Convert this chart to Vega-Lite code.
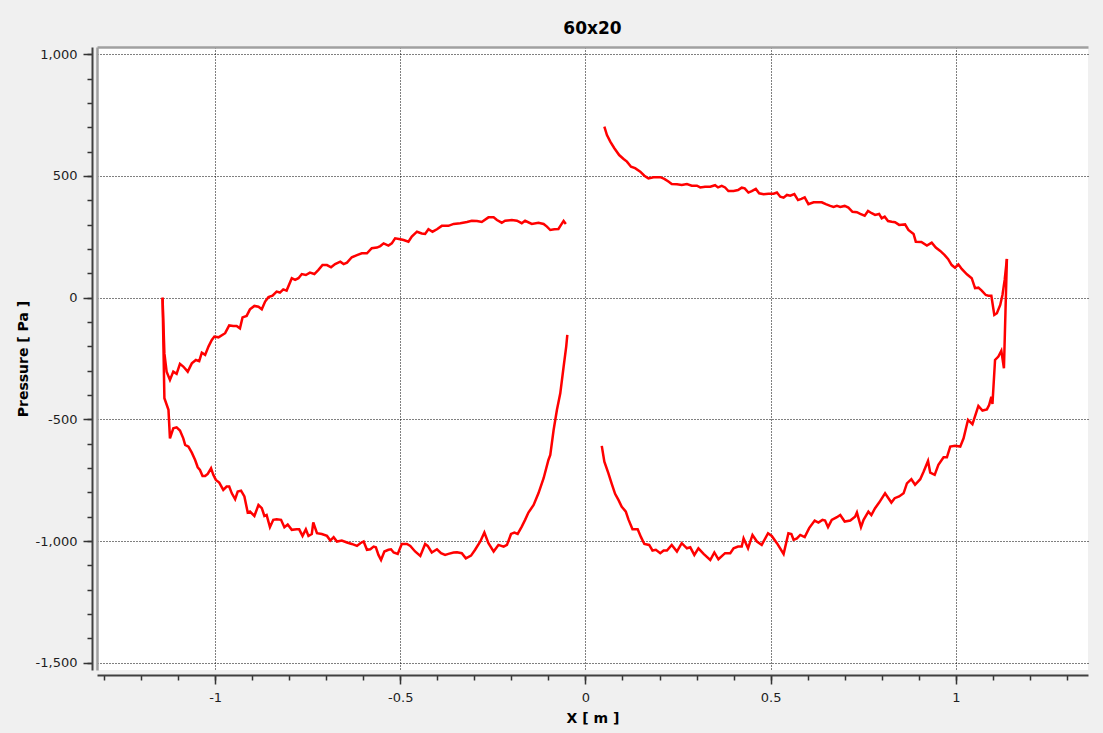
{
"$schema": "https://vega.github.io/schema/vega-lite/v6.json",
"width": 991,
"height": 623,
"autosize": {"type": "none"},
"padding": {"left": 97, "top": 47, "right": 15, "bottom": 63},
"background": "#f0f0f0",
"title": {"text": "60x20", "fontSize": 17, "fontWeight": "bold", "font": "DejaVu Sans", "color": "#000000", "anchor": "middle", "offset": 9},
"data": {"values": [
{"s":"LU","x":-1.142,"p":0},{"s":"LU","x":-1.137,"p":-229},{"s":"LU","x":-1.131,"p":-304},{"s":"LU","x":-1.122,"p":-338},{"s":"LU","x":-1.113,"p":-304},{"s":"LU","x":-1.104,"p":-313},{"s":"LU","x":-1.095,"p":-272},{"s":"LU","x":-1.086,"p":-283},{"s":"LU","x":-1.074,"p":-304},{"s":"LU","x":-1.063,"p":-270},{"s":"LU","x":-1.052,"p":-256},{"s":"LU","x":-1.043,"p":-261},{"s":"LU","x":-1.036,"p":-226},{"s":"LU","x":-1.027,"p":-235},{"s":"LU","x":-1.018,"p":-201},{"s":"LU","x":-1.009,"p":-174},{"s":"LU","x":-1.002,"p":-160},{"s":"LU","x":-0.991,"p":-163},{"s":"LU","x":-0.973,"p":-146},{"s":"LU","x":-0.962,"p":-114},{"s":"LU","x":-0.951,"p":-116},{"s":"LU","x":-0.942,"p":-116},{"s":"LU","x":-0.933,"p":-126},{"s":"LU","x":-0.926,"p":-81},{"s":"LU","x":-0.915,"p":-75},{"s":"LU","x":-0.906,"p":-48},{"s":"LU","x":-0.894,"p":-34},{"s":"LU","x":-0.883,"p":-37},{"s":"LU","x":-0.874,"p":-48},{"s":"LU","x":-0.865,"p":-16},{"s":"LU","x":-0.856,"p":2},{"s":"LU","x":-0.845,"p":8},{"s":"LU","x":-0.834,"p":25},{"s":"LU","x":-0.825,"p":21},{"s":"LU","x":-0.816,"p":34},{"s":"LU","x":-0.807,"p":29},{"s":"LU","x":-0.793,"p":80},{"s":"LU","x":-0.784,"p":73},{"s":"LU","x":-0.775,"p":80},{"s":"LU","x":-0.766,"p":97},{"s":"LU","x":-0.755,"p":93},{"s":"LU","x":-0.744,"p":103},{"s":"LU","x":-0.732,"p":97},{"s":"LU","x":-0.721,"p":114},{"s":"LU","x":-0.710,"p":134},{"s":"LU","x":-0.698,"p":134},{"s":"LU","x":-0.687,"p":125},{"s":"LU","x":-0.676,"p":138},{"s":"LU","x":-0.662,"p":148},{"s":"LU","x":-0.653,"p":138},{"s":"LU","x":-0.644,"p":144},{"s":"LU","x":-0.631,"p":166},{"s":"LU","x":-0.617,"p":175},{"s":"LU","x":-0.604,"p":182},{"s":"LU","x":-0.590,"p":182},{"s":"LU","x":-0.577,"p":203},{"s":"LU","x":-0.563,"p":206},{"s":"LU","x":-0.554,"p":212},{"s":"LU","x":-0.545,"p":223},{"s":"LU","x":-0.532,"p":214},{"s":"LU","x":-0.523,"p":223},{"s":"LU","x":-0.514,"p":244},{"s":"LU","x":-0.500,"p":240},{"s":"LU","x":-0.491,"p":237},{"s":"LU","x":-0.478,"p":230},{"s":"LU","x":-0.469,"p":251},{"s":"LU","x":-0.455,"p":271},{"s":"LU","x":-0.442,"p":264},{"s":"LU","x":-0.433,"p":262},{"s":"LU","x":-0.424,"p":281},{"s":"LU","x":-0.413,"p":271},{"s":"LU","x":-0.401,"p":281},{"s":"LU","x":-0.388,"p":295},{"s":"LU","x":-0.370,"p":295},{"s":"LU","x":-0.356,"p":303},{"s":"LU","x":-0.338,"p":306},{"s":"LU","x":-0.320,"p":311},{"s":"LU","x":-0.307,"p":316},{"s":"LU","x":-0.293,"p":315},{"s":"LU","x":-0.280,"p":311},{"s":"LU","x":-0.262,"p":330},{"s":"LU","x":-0.248,"p":330},{"s":"LU","x":-0.239,"p":319},{"s":"LU","x":-0.226,"p":308},{"s":"LU","x":-0.217,"p":316},{"s":"LU","x":-0.199,"p":319},{"s":"LU","x":-0.185,"p":316},{"s":"LU","x":-0.172,"p":306},{"s":"LU","x":-0.163,"p":316},{"s":"LU","x":-0.145,"p":303},{"s":"LU","x":-0.127,"p":308},{"s":"LU","x":-0.113,"p":303},{"s":"LU","x":-0.104,"p":292},{"s":"LU","x":-0.095,"p":278},{"s":"LU","x":-0.084,"p":281},{"s":"LU","x":-0.073,"p":282},{"s":"LU","x":-0.066,"p":299},{"s":"LU","x":-0.059,"p":315},{"s":"LU","x":-0.053,"p":303},
{"s":"LL","x":-1.142,"p":0},{"s":"LL","x":-1.137,"p":-413},{"s":"LL","x":-1.126,"p":-461},{"s":"LL","x":-1.122,"p":-578},{"s":"LL","x":-1.113,"p":-537},{"s":"LL","x":-1.104,"p":-533},{"s":"LL","x":-1.095,"p":-546},{"s":"LL","x":-1.086,"p":-578},{"s":"LL","x":-1.081,"p":-605},{"s":"LL","x":-1.072,"p":-612},{"s":"LL","x":-1.063,"p":-637},{"s":"LL","x":-1.054,"p":-667},{"s":"LL","x":-1.047,"p":-697},{"s":"LL","x":-1.041,"p":-708},{"s":"LL","x":-1.034,"p":-733},{"s":"LL","x":-1.027,"p":-733},{"s":"LL","x":-1.020,"p":-724},{"s":"LL","x":-1.011,"p":-701},{"s":"LL","x":-1.005,"p":-728},{"s":"LL","x":-0.998,"p":-749},{"s":"LL","x":-0.989,"p":-760},{"s":"LL","x":-0.978,"p":-790},{"s":"LL","x":-0.969,"p":-776},{"s":"LL","x":-0.962,"p":-776},{"s":"LL","x":-0.955,"p":-804},{"s":"LL","x":-0.946,"p":-828},{"s":"LL","x":-0.939,"p":-797},{"s":"LL","x":-0.930,"p":-793},{"s":"LL","x":-0.921,"p":-817},{"s":"LL","x":-0.912,"p":-883},{"s":"LL","x":-0.906,"p":-879},{"s":"LL","x":-0.894,"p":-897},{"s":"LL","x":-0.883,"p":-852},{"s":"LL","x":-0.874,"p":-865},{"s":"LL","x":-0.867,"p":-897},{"s":"LL","x":-0.861,"p":-893},{"s":"LL","x":-0.852,"p":-943},{"s":"LL","x":-0.843,"p":-913},{"s":"LL","x":-0.834,"p":-911},{"s":"LL","x":-0.822,"p":-913},{"s":"LL","x":-0.813,"p":-943},{"s":"LL","x":-0.804,"p":-932},{"s":"LL","x":-0.793,"p":-954},{"s":"LL","x":-0.780,"p":-952},{"s":"LL","x":-0.773,"p":-952},{"s":"LL","x":-0.764,"p":-979},{"s":"LL","x":-0.755,"p":-952},{"s":"LL","x":-0.748,"p":-979},{"s":"LL","x":-0.739,"p":-971},{"s":"LL","x":-0.735,"p":-924},{"s":"LL","x":-0.725,"p":-968},{"s":"LL","x":-0.712,"p":-971},{"s":"LL","x":-0.698,"p":-979},{"s":"LL","x":-0.689,"p":-998},{"s":"LL","x":-0.680,"p":-984},{"s":"LL","x":-0.671,"p":-1002},{"s":"LL","x":-0.658,"p":-998},{"s":"LL","x":-0.644,"p":-1006},{"s":"LL","x":-0.631,"p":-1012},{"s":"LL","x":-0.617,"p":-1020},{"s":"LL","x":-0.608,"p":-1009},{"s":"LL","x":-0.599,"p":-1002},{"s":"LL","x":-0.590,"p":-1036},{"s":"LL","x":-0.581,"p":-1034},{"s":"LL","x":-0.572,"p":-1023},{"s":"LL","x":-0.566,"p":-1026},{"s":"LL","x":-0.559,"p":-1057},{"s":"LL","x":-0.552,"p":-1078},{"s":"LL","x":-0.543,"p":-1043},{"s":"LL","x":-0.532,"p":-1036},{"s":"LL","x":-0.525,"p":-1034},{"s":"LL","x":-0.518,"p":-1047},{"s":"LL","x":-0.507,"p":-1053},{"s":"LL","x":-0.496,"p":-1012},{"s":"LL","x":-0.482,"p":-1012},{"s":"LL","x":-0.473,"p":-1020},{"s":"LL","x":-0.460,"p":-1043},{"s":"LL","x":-0.446,"p":-1061},{"s":"LL","x":-0.433,"p":-1012},{"s":"LL","x":-0.426,"p":-1020},{"s":"LL","x":-0.415,"p":-1047},{"s":"LL","x":-0.401,"p":-1034},{"s":"LL","x":-0.390,"p":-1050},{"s":"LL","x":-0.379,"p":-1057},{"s":"LL","x":-0.370,"p":-1053},{"s":"LL","x":-0.356,"p":-1047},{"s":"LL","x":-0.347,"p":-1046},{"s":"LL","x":-0.334,"p":-1050},{"s":"LL","x":-0.323,"p":-1071},{"s":"LL","x":-0.309,"p":-1060},{"s":"LL","x":-0.298,"p":-1036},{"s":"LL","x":-0.284,"p":-1002},{"s":"LL","x":-0.273,"p":-965},{"s":"LL","x":-0.262,"p":-1009},{"s":"LL","x":-0.248,"p":-1043},{"s":"LL","x":-0.235,"p":-1016},{"s":"LL","x":-0.221,"p":-1023},{"s":"LL","x":-0.212,"p":-1016},{"s":"LL","x":-0.201,"p":-971},{"s":"LL","x":-0.192,"p":-965},{"s":"LL","x":-0.183,"p":-971},{"s":"LL","x":-0.172,"p":-941},{"s":"LL","x":-0.163,"p":-913},{"s":"LL","x":-0.154,"p":-883},{"s":"LL","x":-0.140,"p":-852},{"s":"LL","x":-0.127,"p":-804},{"s":"LL","x":-0.113,"p":-742},{"s":"LL","x":-0.100,"p":-667},{"s":"LL","x":-0.095,"p":-646},{"s":"LL","x":-0.086,"p":-544},{"s":"LL","x":-0.077,"p":-461},{"s":"LL","x":-0.068,"p":-393},{"s":"LL","x":-0.059,"p":-284},{"s":"LL","x":-0.052,"p":-201},{"s":"LL","x":-0.049,"p":-153},
{"s":"RU","x":0.051,"p":703},{"s":"RU","x":0.058,"p":668},{"s":"RU","x":0.067,"p":641},{"s":"RU","x":0.078,"p":614},{"s":"RU","x":0.091,"p":586},{"s":"RU","x":0.103,"p":570},{"s":"RU","x":0.112,"p":559},{"s":"RU","x":0.123,"p":538},{"s":"RU","x":0.134,"p":532},{"s":"RU","x":0.148,"p":518},{"s":"RU","x":0.159,"p":501},{"s":"RU","x":0.170,"p":490},{"s":"RU","x":0.184,"p":495},{"s":"RU","x":0.202,"p":495},{"s":"RU","x":0.213,"p":488},{"s":"RU","x":0.224,"p":477},{"s":"RU","x":0.233,"p":467},{"s":"RU","x":0.247,"p":466},{"s":"RU","x":0.260,"p":463},{"s":"RU","x":0.274,"p":467},{"s":"RU","x":0.287,"p":460},{"s":"RU","x":0.301,"p":460},{"s":"RU","x":0.310,"p":453},{"s":"RU","x":0.323,"p":456},{"s":"RU","x":0.337,"p":456},{"s":"RU","x":0.350,"p":462},{"s":"RU","x":0.358,"p":453},{"s":"RU","x":0.368,"p":459},{"s":"RU","x":0.377,"p":453},{"s":"RU","x":0.386,"p":438},{"s":"RU","x":0.400,"p":438},{"s":"RU","x":0.412,"p":442},{"s":"RU","x":0.422,"p":452},{"s":"RU","x":0.430,"p":449},{"s":"RU","x":0.440,"p":432},{"s":"RU","x":0.449,"p":438},{"s":"RU","x":0.460,"p":447},{"s":"RU","x":0.469,"p":429},{"s":"RU","x":0.481,"p":425},{"s":"RU","x":0.494,"p":427},{"s":"RU","x":0.508,"p":427},{"s":"RU","x":0.517,"p":432},{"s":"RU","x":0.526,"p":415},{"s":"RU","x":0.535,"p":411},{"s":"RU","x":0.544,"p":422},{"s":"RU","x":0.553,"p":419},{"s":"RU","x":0.564,"p":426},{"s":"RU","x":0.574,"p":401},{"s":"RU","x":0.583,"p":406},{"s":"RU","x":0.592,"p":412},{"s":"RU","x":0.602,"p":384},{"s":"RU","x":0.616,"p":392},{"s":"RU","x":0.628,"p":392},{"s":"RU","x":0.638,"p":392},{"s":"RU","x":0.649,"p":384},{"s":"RU","x":0.661,"p":377},{"s":"RU","x":0.670,"p":373},{"s":"RU","x":0.679,"p":377},{"s":"RU","x":0.688,"p":373},{"s":"RU","x":0.700,"p":377},{"s":"RU","x":0.710,"p":370},{"s":"RU","x":0.721,"p":353},{"s":"RU","x":0.733,"p":351},{"s":"RU","x":0.742,"p":344},{"s":"RU","x":0.754,"p":337},{"s":"RU","x":0.763,"p":356},{"s":"RU","x":0.773,"p":347},{"s":"RU","x":0.782,"p":340},{"s":"RU","x":0.793,"p":344},{"s":"RU","x":0.800,"p":326},{"s":"RU","x":0.808,"p":333},{"s":"RU","x":0.817,"p":315},{"s":"RU","x":0.827,"p":312},{"s":"RU","x":0.836,"p":310},{"s":"RU","x":0.847,"p":299},{"s":"RU","x":0.863,"p":301},{"s":"RU","x":0.872,"p":278},{"s":"RU","x":0.886,"p":262},{"s":"RU","x":0.892,"p":230},{"s":"RU","x":0.907,"p":229},{"s":"RU","x":0.922,"p":214},{"s":"RU","x":0.935,"p":226},{"s":"RU","x":0.946,"p":206},{"s":"RU","x":0.958,"p":192},{"s":"RU","x":0.970,"p":175},{"s":"RU","x":0.979,"p":159},{"s":"RU","x":0.989,"p":134},{"s":"RU","x":0.998,"p":123},{"s":"RU","x":1.007,"p":137},{"s":"RU","x":1.016,"p":118},{"s":"RU","x":1.030,"p":96},{"s":"RU","x":1.043,"p":80},{"s":"RU","x":1.052,"p":39},{"s":"RU","x":1.061,"p":41},{"s":"RU","x":1.070,"p":29},{"s":"RU","x":1.081,"p":11},{"s":"RU","x":1.088,"p":8},{"s":"RU","x":1.096,"p":8},{"s":"RU","x":1.104,"p":-71},{"s":"RU","x":1.111,"p":-64},{"s":"RU","x":1.120,"p":-30},{"s":"RU","x":1.126,"p":11},{"s":"RU","x":1.132,"p":73},{"s":"RU","x":1.138,"p":159},
{"s":"RL","x":0.044,"p":-609},{"s":"RL","x":0.051,"p":-674},{"s":"RL","x":0.062,"p":-722},{"s":"RL","x":0.071,"p":-765},{"s":"RL","x":0.080,"p":-806},{"s":"RL","x":0.089,"p":-831},{"s":"RL","x":0.098,"p":-859},{"s":"RL","x":0.109,"p":-879},{"s":"RL","x":0.116,"p":-911},{"s":"RL","x":0.127,"p":-952},{"s":"RL","x":0.141,"p":-952},{"s":"RL","x":0.150,"p":-984},{"s":"RL","x":0.159,"p":-1012},{"s":"RL","x":0.172,"p":-1016},{"s":"RL","x":0.181,"p":-1039},{"s":"RL","x":0.190,"p":-1036},{"s":"RL","x":0.202,"p":-1050},{"s":"RL","x":0.211,"p":-1039},{"s":"RL","x":0.220,"p":-1039},{"s":"RL","x":0.233,"p":-1016},{"s":"RL","x":0.247,"p":-1043},{"s":"RL","x":0.260,"p":-1009},{"s":"RL","x":0.274,"p":-1030},{"s":"RL","x":0.283,"p":-1026},{"s":"RL","x":0.294,"p":-1057},{"s":"RL","x":0.305,"p":-1030},{"s":"RL","x":0.319,"p":-1053},{"s":"RL","x":0.337,"p":-1078},{"s":"RL","x":0.348,"p":-1047},{"s":"RL","x":0.359,"p":-1075},{"s":"RL","x":0.377,"p":-1050},{"s":"RL","x":0.391,"p":-1050},{"s":"RL","x":0.400,"p":-1030},{"s":"RL","x":0.412,"p":-1023},{"s":"RL","x":0.422,"p":-1023},{"s":"RL","x":0.427,"p":-989},{"s":"RL","x":0.439,"p":-1030},{"s":"RL","x":0.451,"p":-975},{"s":"RL","x":0.463,"p":-1002},{"s":"RL","x":0.476,"p":-1016},{"s":"RL","x":0.493,"p":-968},{"s":"RL","x":0.503,"p":-979},{"s":"RL","x":0.517,"p":-1009},{"s":"RL","x":0.535,"p":-1053},{"s":"RL","x":0.548,"p":-968},{"s":"RL","x":0.556,"p":-971},{"s":"RL","x":0.562,"p":-995},{"s":"RL","x":0.571,"p":-989},{"s":"RL","x":0.580,"p":-975},{"s":"RL","x":0.592,"p":-984},{"s":"RL","x":0.604,"p":-947},{"s":"RL","x":0.619,"p":-916},{"s":"RL","x":0.629,"p":-924},{"s":"RL","x":0.640,"p":-913},{"s":"RL","x":0.647,"p":-916},{"s":"RL","x":0.655,"p":-943},{"s":"RL","x":0.665,"p":-913},{"s":"RL","x":0.679,"p":-902},{"s":"RL","x":0.688,"p":-893},{"s":"RL","x":0.700,"p":-920},{"s":"RL","x":0.715,"p":-916},{"s":"RL","x":0.728,"p":-900},{"s":"RL","x":0.733,"p":-883},{"s":"RL","x":0.744,"p":-943},{"s":"RL","x":0.751,"p":-913},{"s":"RL","x":0.764,"p":-879},{"s":"RL","x":0.772,"p":-893},{"s":"RL","x":0.782,"p":-865},{"s":"RL","x":0.793,"p":-842},{"s":"RL","x":0.809,"p":-804},{"s":"RL","x":0.826,"p":-842},{"s":"RL","x":0.835,"p":-824},{"s":"RL","x":0.847,"p":-817},{"s":"RL","x":0.859,"p":-804},{"s":"RL","x":0.868,"p":-763},{"s":"RL","x":0.880,"p":-746},{"s":"RL","x":0.890,"p":-769},{"s":"RL","x":0.904,"p":-746},{"s":"RL","x":0.913,"p":-715},{"s":"RL","x":0.925,"p":-671},{"s":"RL","x":0.931,"p":-719},{"s":"RL","x":0.943,"p":-728},{"s":"RL","x":0.953,"p":-687},{"s":"RL","x":0.967,"p":-656},{"s":"RL","x":0.976,"p":-656},{"s":"RL","x":0.985,"p":-612},{"s":"RL","x":0.998,"p":-609},{"s":"RL","x":1.012,"p":-612},{"s":"RL","x":1.021,"p":-578},{"s":"RL","x":1.033,"p":-502},{"s":"RL","x":1.045,"p":-520},{"s":"RL","x":1.061,"p":-445},{"s":"RL","x":1.072,"p":-464},{"s":"RL","x":1.084,"p":-459},{"s":"RL","x":1.090,"p":-441},{"s":"RL","x":1.096,"p":-407},{"s":"RL","x":1.099,"p":-437},{"s":"RL","x":1.106,"p":-256},{"s":"RL","x":1.115,"p":-242},{"s":"RL","x":1.123,"p":-218},{"s":"RL","x":1.126,"p":-249},{"s":"RL","x":1.130,"p":-290},{"s":"RL","x":1.138,"p":159}
]},
"layer": [
{
"mark": {"type": "point", "opacity": 0},
"encoding": {
"x": {"field": "x", "type": "quantitative", "scale": {"domain": [-1.319, 1.357], "nice": false, "zero": false},
"axis": {"orient": "top", "offset": 0, "domain": true, "domainColor": "#a0a0a0", "domainWidth": 2.5, "ticks": false, "labels": false, "grid": false, "title": null}},
"y": {"field": "p", "type": "quantitative", "scale": {"domain": [-1530, 1030], "nice": false, "zero": false},
"axis": {"orient": "left", "offset": 0, "domain": true, "domainColor": "#a0a0a0", "domainWidth": 2.5, "ticks": false, "labels": false, "grid": false, "title": null}}
}
},
{
"mark": {"type": "point", "opacity": 0},
"encoding": {
"x": {"field": "x", "type": "quantitative", "scale": {"domain": [-1.319, 1.357], "nice": false, "zero": false},
"axis": {"orient": "bottom", "offset": 5, "domain": false, "values": [-1.3,-1.2,-1.1,-1.0,-0.9,-0.8,-0.7,-0.6,-0.5,-0.4,-0.3,-0.2,-0.1,0,0.1,0.2,0.3,0.4,0.5,0.6,0.7,0.8,0.9,1.0,1.1,1.2,1.3], "ticks": true, "tickSize": 5, "tickWidth": 1.5, "tickColor": "#333333", "labels": false, "grid": false, "title": null}},
"y": {"field": "p", "type": "quantitative", "scale": {"domain": [-1530, 1030], "nice": false, "zero": false},
"axis": {"orient": "left", "offset": 5, "domain": false, "values": [-1500,-1400,-1300,-1200,-1100,-1000,-900,-800,-700,-600,-500,-400,-300,-200,-100,0,100,200,300,400,500,600,700,800,900,1000], "ticks": true, "tickSize": 5, "tickWidth": 1.5, "tickColor": "#333333", "labels": false, "grid": false, "title": null}}
}
},
{
"mark": {"type": "line", "color": "#ff0000", "strokeWidth": 2.5, "interpolate": "linear"},
"encoding": {
"x": {"field": "x", "type": "quantitative", "scale": {"domain": [-1.319, 1.357], "nice": false, "zero": false},
"axis": {"orient": "bottom", "offset": 5, "values": [-1, -0.5, 0, 0.5, 1], "format": "", "domain": true, "domainColor": "#404040", "domainWidth": 2, "tickSize": 9, "tickWidth": 1.5, "tickColor": "#333333", "grid": true, "gridColor": "#000000", "gridDash": [1, 2], "gridWidth": 1, "labelFont": "DejaVu Sans", "labelFontSize": 13, "labelColor": "#1e1e1e", "labelPadding": 7, "labelFlush": false, "title": "X [ m ]", "titleFont": "DejaVu Sans", "titleFontSize": 14, "titleFontWeight": "bold", "titleColor": "#000000", "titlePadding": 7}},
"y": {"field": "p", "type": "quantitative", "scale": {"domain": [-1530, 1030], "nice": false, "zero": false},
"axis": {"orient": "left", "offset": 5, "values": [-1500, -1000, -500, 0, 500, 1000], "format": ",d", "domain": true, "domainColor": "#404040", "domainWidth": 2, "tickSize": 9, "tickWidth": 1.5, "tickColor": "#333333", "grid": true, "gridColor": "#000000", "gridDash": [1, 2], "gridWidth": 1, "labelFont": "DejaVu Sans", "labelFontSize": 13, "labelColor": "#1e1e1e", "labelPadding": 6, "labelFlush": false, "title": "Pressure [ Pa ]", "titleFont": "DejaVu Sans", "titleFontSize": 14, "titleFontWeight": "bold", "titleColor": "#000000", "titlePadding": 5}},
"detail": {"field": "s", "type": "nominal"}
}
}
],
"resolve": {"axis": {"x": "independent", "y": "independent"}},
"config": {
"font": "DejaVu Sans",
"view": {"fill": "#ffffff", "stroke": null},
"locale": {"number": {"decimal": ".", "thousands": ",", "grouping": [3], "currency": ["$", ""], "minus": "-"}}
}
}
